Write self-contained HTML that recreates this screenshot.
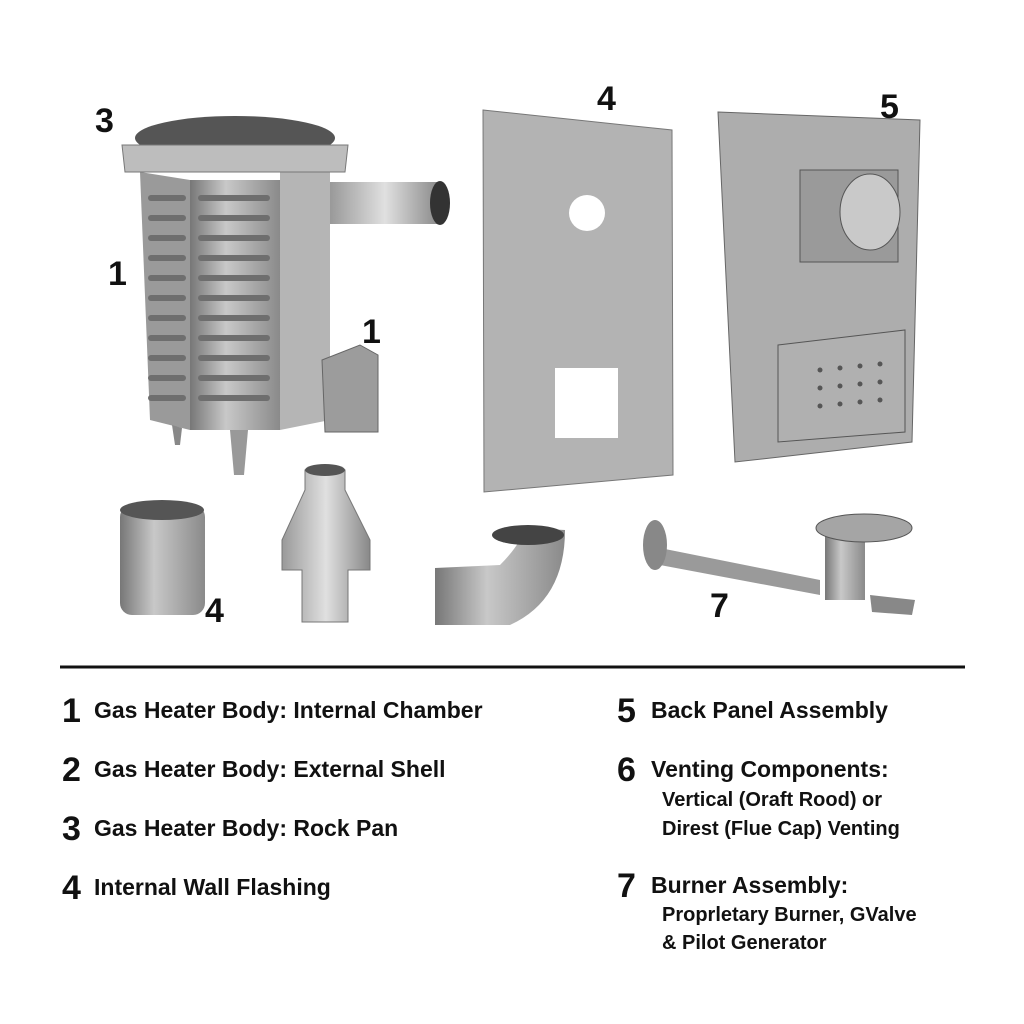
<!DOCTYPE html>
<html><head><meta charset="utf-8"><style>
html,body{margin:0;padding:0;background:#fff;}
.w{position:relative;width:1024px;height:1024px;overflow:hidden;font-family:"Liberation Sans",sans-serif;font-weight:bold;color:#111;}
.t{position:absolute;white-space:nowrap;}
.n{font-size:34px;}
.l{font-size:23px;}
.s{font-size:20px;}
</style></head><body><div class="w">
<svg width="1024" height="1024" style="position:absolute;left:0;top:0">
<defs>
<linearGradient id="g1" x1="0" x2="1"><stop offset="0" stop-color="#777"/><stop offset=".4" stop-color="#c8c8c8"/><stop offset="1" stop-color="#8a8a8a"/></linearGradient>
<linearGradient id="g2" x1="0" x2="1"><stop offset="0" stop-color="#999"/><stop offset=".5" stop-color="#e0e0e0"/><stop offset="1" stop-color="#888"/></linearGradient>
</defs>
<!-- heater -->
<ellipse cx="235" cy="138" rx="100" ry="22" fill="#555"/>
<polygon points="140,172 190,180 190,430 150,420" fill="#9a9a9a"/>
<polygon points="190,180 280,180 280,430 190,430" fill="url(#g1)"/>
<polygon points="280,170 330,168 330,420 280,430" fill="#b5b5b5"/>
<polygon points="122,145 348,145 345,172 125,172" fill="#bdbdbd" stroke="#777"/>
<g fill="#6e6e6e">
<rect x="148" y="195" width="38" height="6" rx="3"/><rect x="148" y="215" width="38" height="6" rx="3"/><rect x="148" y="235" width="38" height="6" rx="3"/><rect x="148" y="255" width="38" height="6" rx="3"/><rect x="148" y="275" width="38" height="6" rx="3"/><rect x="148" y="295" width="38" height="6" rx="3"/><rect x="148" y="315" width="38" height="6" rx="3"/><rect x="148" y="335" width="38" height="6" rx="3"/><rect x="148" y="355" width="38" height="6" rx="3"/><rect x="148" y="375" width="38" height="6" rx="3"/><rect x="148" y="395" width="38" height="6" rx="3"/>
<rect x="198" y="195" width="72" height="6" rx="3"/><rect x="198" y="215" width="72" height="6" rx="3"/><rect x="198" y="235" width="72" height="6" rx="3"/><rect x="198" y="255" width="72" height="6" rx="3"/><rect x="198" y="275" width="72" height="6" rx="3"/><rect x="198" y="295" width="72" height="6" rx="3"/><rect x="198" y="315" width="72" height="6" rx="3"/><rect x="198" y="335" width="72" height="6" rx="3"/><rect x="198" y="355" width="72" height="6" rx="3"/><rect x="198" y="375" width="72" height="6" rx="3"/><rect x="198" y="395" width="72" height="6" rx="3"/>
</g>
<rect x="330" y="182" width="110" height="42" fill="url(#g2)" transform="skewY(0)"/>
<ellipse cx="440" cy="203" rx="10" ry="22" fill="#333"/>
<polygon points="322,360 360,345 378,355 378,432 325,432" fill="#9c9c9c" stroke="#666"/>
<polygon points="172,425 182,428 180,445 175,445" fill="#888"/>
<polygon points="230,430 248,430 244,475 234,475" fill="#999"/>
<!-- panel 4 -->
<polygon points="483,110 672,130 673,475 484,492" fill="#b3b3b3" stroke="#777"/>
<circle cx="587" cy="213" r="18" fill="#fff"/>
<rect x="555" y="368" width="63" height="70" fill="#fff"/>
<!-- panel 5 -->
<polygon points="718,112 920,120 912,442 735,462" fill="#adadad" stroke="#666"/>
<rect x="800" y="170" width="98" height="92" fill="#9a9a9a" stroke="#555"/>
<ellipse cx="870" cy="212" rx="30" ry="38" fill="#c9c9c9" stroke="#555"/>
<polygon points="778,345 905,330 905,432 778,442" fill="#b0b0b0" stroke="#555"/>
<g fill="#555"><circle cx="820" cy="370" r="2.5"/><circle cx="840" cy="368" r="2.5"/><circle cx="860" cy="366" r="2.5"/><circle cx="880" cy="364" r="2.5"/><circle cx="820" cy="388" r="2.5"/><circle cx="840" cy="386" r="2.5"/><circle cx="860" cy="384" r="2.5"/><circle cx="880" cy="382" r="2.5"/><circle cx="820" cy="406" r="2.5"/><circle cx="840" cy="404" r="2.5"/><circle cx="860" cy="402" r="2.5"/><circle cx="880" cy="400" r="2.5"/></g>
<!-- parts -->
<rect x="120" y="505" width="85" height="110" rx="12" fill="url(#g1)"/>
<ellipse cx="162" cy="510" rx="42" ry="10" fill="#555"/>
<polygon points="305,470 345,470 345,490 370,540 370,570 348,570 348,622 302,622 302,570 282,570 282,540 305,490" fill="url(#g2)" stroke="#777"/>
<ellipse cx="325" cy="470" rx="20" ry="6" fill="#555"/>
<path d="M435 568 L500 565 Q520 545 525 528 L565 530 Q565 600 510 625 L435 625 Z" fill="url(#g1)"/>
<ellipse cx="528" cy="535" rx="36" ry="10" fill="#444"/>
<path d="M645 545 L820 580 L820 595 L660 565 Z" fill="#9a9a9a"/>
<ellipse cx="655" cy="545" rx="12" ry="25" fill="#888"/>
<rect x="825" y="525" width="40" height="75" fill="url(#g1)"/>
<ellipse cx="864" cy="528" rx="48" ry="14" fill="#a5a5a5" stroke="#555"/>
<polygon points="870,595 915,600 912,615 872,612" fill="#888"/>
<line x1="60" y1="667" x2="965" y2="667" stroke="#111" stroke-width="3"/>
</svg>
<div class="t n" style="left:95px;top:102px">3</div>
<div class="t n" style="left:108px;top:255px">1</div>
<div class="t n" style="left:362px;top:313px">1</div>
<div class="t n" style="left:597px;top:80px">4</div>
<div class="t n" style="left:880px;top:88px">5</div>
<div class="t n" style="left:205px;top:592px">4</div>
<div class="t n" style="left:710px;top:587px">7</div>

<div class="t n" style="left:62px;top:692px">1</div><div class="t l" style="left:94px;top:697px">Gas Heater Body: Internal Chamber</div>
<div class="t n" style="left:62px;top:751px">2</div><div class="t l" style="left:94px;top:756px">Gas Heater Body: External Shell</div>
<div class="t n" style="left:62px;top:810px">3</div><div class="t l" style="left:94px;top:815px">Gas Heater Body: Rock Pan</div>
<div class="t n" style="left:62px;top:869px">4</div><div class="t l" style="left:94px;top:874px">Internal Wall Flashing</div>
<div class="t n" style="left:617px;top:692px">5</div><div class="t l" style="left:651px;top:697px">Back Panel Assembly</div>
<div class="t n" style="left:617px;top:751px">6</div><div class="t l" style="left:651px;top:756px">Venting Components:</div>
<div class="t s" style="left:662px;top:789px">Vertical (Oraft Rood) or</div>
<div class="t s" style="left:662px;top:818px">Direst (Flue Cap) Venting</div>
<div class="t n" style="left:617px;top:867px">7</div><div class="t l" style="left:651px;top:872px">Burner Assembly:</div>
<div class="t s" style="left:662px;top:904px">Proprletary Burner, GValve</div>
<div class="t s" style="left:662px;top:932px">&amp; Pilot Generator</div>
</div></body></html>
